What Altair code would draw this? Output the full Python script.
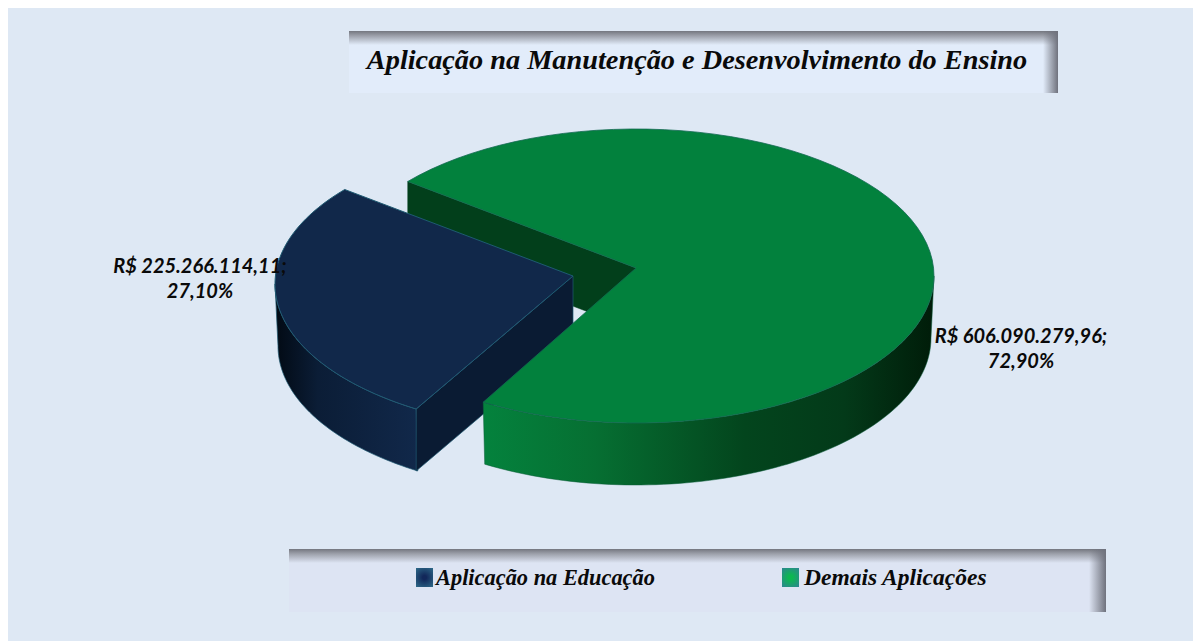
import math
import altair as alt
import pandas as pd

CATEGORIES = ["Aplicação na Educação", "Demais Aplicações"]
VALUES = [225266114.11, 606090279.96]
LABEL_LINE_1 = ["R$ 225.266.114,11;", "R$ 606.090.279,96;"]
LABEL_LINE_2 = ["27,10%", "72,90%"]
TITLE = "Aplicação na Manutenção e Desenvolvimento do Ensino"

W, H = 1185, 633
OX, OY = 8, 8  # page margin
RX, RY, DEPTH = 298, 147, 62
BOTTOM_RX = 295
FIRST_ANGLE = 140.0
BLUE_SKEW, GREEN_SKEW = 0.7, 1.6  # perspective skew of the front corners
BG = "#DEE8F4"

total = sum(VALUES)
blue_sweep = 360 * VALUES[0] / total
A0 = FIRST_ANGLE
A2 = FIRST_ANGLE + 360
A1_BLUE = A0 + blue_sweep + BLUE_SKEW
A1_GREEN = A0 + blue_sweep + GREEN_SKEW

SX = alt.Scale(domain=[OX, OX + W], range=[0, W])
SY = alt.Scale(domain=[OY, OY + H], range=[0, H])


def pt(c, a, rx=RX, dy=0):
    t = math.radians(a)
    return (c[0] + rx * math.cos(t), c[1] - RY * math.sin(t) + dy)


def arc(c, a, b, rx=RX, dy=0, n=80):
    return [pt(c, a + (b - a) * i / n, rx, dy) for i in range(n + 1)]


def shape(points, **mark):
    df = pd.DataFrame(points, columns=["x", "y"])
    df["i"] = range(len(df))
    return alt.Chart(df).mark_line(interpolate="linear-closed", **mark).encode(
        x=alt.X("x:Q", scale=SX, axis=None),
        y=alt.Y("y:Q", scale=SY, axis=None),
        order="i:Q",
    )


def grad(stops, horizontal=True):
    return alt.LinearGradient(
        gradient="linear",
        x1=0, y1=0,
        x2=1 if horizontal else 0,
        y2=0 if horizontal else 1,
        stops=[alt.GradientStop(offset=o, color=c) for o, c in stops],
    )


def box(x0, y0, x1, y1, **mark):
    return alt.Chart(pd.DataFrame({"k": [0]})).mark_rect(**mark).encode(
        x=alt.value(x0 - OX), x2=alt.value(x1 - OX),
        y=alt.value(y0 - OY), y2=alt.value(y1 - OY),
    )


def text(s, x, y, size, font, align="center", **kw):
    return alt.Chart(pd.DataFrame({"t": [s]})).mark_text(
        font=font, fontSize=size, fontStyle="italic", fontWeight="bold",
        align=align, baseline="alphabetic", color="#0a0a0a", **kw
    ).encode(text="t:N", x=alt.value(x - OX), y=alt.value(y - OY))


def panel(x0, y0, x1, y1, fill, rw):
    return [
        box(x0, y0, x1, y1, fill=fill),
        box(x0, y0, x1, y0 + 14, fill=grad([(0, "#74777f"), (0.35, "#9da1ab"), (1, fill)], False)),
        box(x1 - rw, y0, x1, y1, fill=grad([(0, "rgba(112,115,126,0)"), (1, "#6f727d")])),
    ]


GC = (636, 276)   # green ellipse centre
GA = (636, 268)   # green apex
BC = (573, 284)   # blue ellipse centre
BA = (573, 276)   # blue apex

g_end = pt(GC, A2)
b_corner = pt(BC, A1_BLUE)

green_wall = [g_end, GA, (GA[0], GA[1] + DEPTH), (g_end[0], g_end[1] + DEPTH)]
blue_inner = [BA, b_corner, (b_corner[0], b_corner[1] + DEPTH), (BA[0], BA[1] + DEPTH)]
blue_side = arc(BC, 180, A1_BLUE) + arc(BC, A1_BLUE, 180, BOTTOM_RX, DEPTH)
blue_top = [BA] + arc(BC, A0, A1_BLUE)
green_side = arc(GC, A1_GREEN, 360) + arc(GC, 360, A1_GREEN, BOTTOM_RX, DEPTH)
green_top = [GA] + arc(GC, A1_GREEN, A2)

EDGE_BLUE = "#1F5A72"
layers = []
layers += panel(349, 31, 1058, 93, "#E2ECFA", 15)
layers += panel(289, 549, 1106, 612, "#DDE4F3", 17)
layers += [
    shape(green_wall, fill="#023F1B", stroke="#023F1B", strokeWidth=0.5),
    shape(blue_side, fill=grad([(0, "#020A14"), (0.3, "#0B1D36"), (1, "#11284A")]),
          stroke=EDGE_BLUE, strokeWidth=0.7),
    shape(blue_inner, fill="#0A1B33", stroke=EDGE_BLUE, strokeWidth=0.7),
    shape(blue_top, fill="#11284A", stroke=EDGE_BLUE, strokeWidth=1),
    shape(green_side, fill=grad([(0, "#04823D"), (0.25, "#066F32"), (0.58, "#03451D"),
                                 (0.8, "#033A19"), (1, "#001C09")]),
          stroke="#0a5c38", strokeWidth=0.5),
    shape(green_top, fill="#02813D", stroke="#136A52", strokeWidth=0.8),
]


def swatch(x0, x1, centre, edge):
    return box(x0, 568, x1, 587, fill=alt.RadialGradient(
        gradient="radial", r1=0, r2=0.7, x1=0.5, y1=0.5, x2=0.5, y2=0.5,
        stops=[alt.GradientStop(offset=0.15, color=centre), alt.GradientStop(offset=1, color=edge)],
    ))


layers += [
    text(TITLE, 697, 69, 28.3, "Liberation Serif"),
    swatch(416, 433, "#12285A", "#2F6E8C"),
    swatch(782, 799, "#0CB850", "#2F8296"),
    text(CATEGORIES[0], 436, 585, 22.4, "Liberation Serif", align="left"),
    text(CATEGORIES[1], 804, 585, 23.5, "Liberation Serif", align="left"),
    text(LABEL_LINE_1[0], 200, 273, 20, "Lato"),
    text(LABEL_LINE_2[0], 200, 298, 20, "Lato"),
    text(LABEL_LINE_1[1], 1021, 343, 20, "Lato"),
    text(LABEL_LINE_2[1], 1021, 368, 20, "Lato"),
]

chart = alt.layer(*layers).properties(
    width=W, height=H, padding=0, background=BG
).configure_view(stroke=None)

chart.save("out.html", embed_options={"renderer": "svg", "actions": False})
